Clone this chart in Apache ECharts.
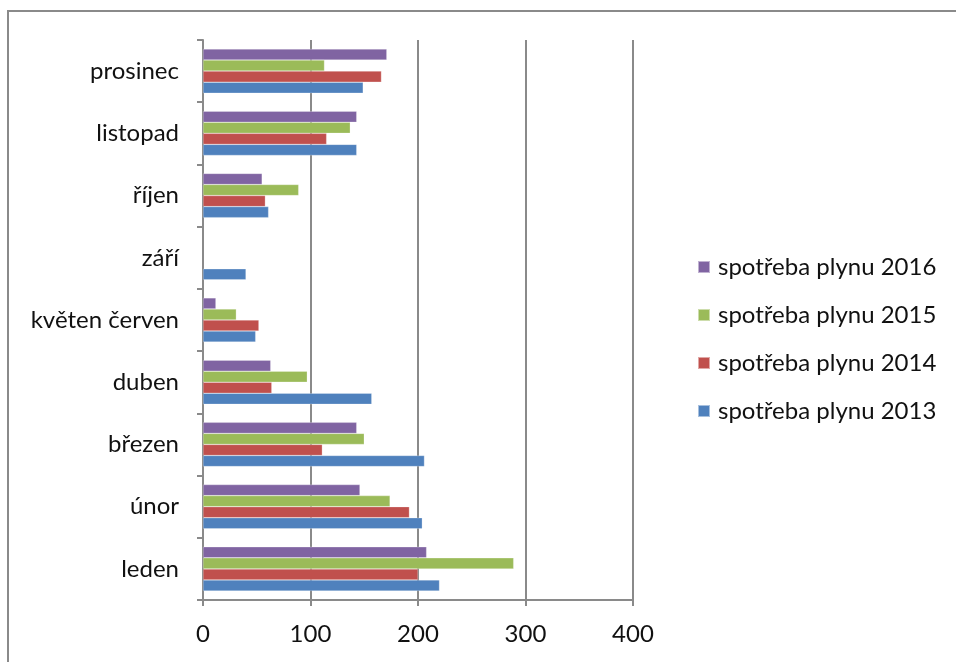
<!DOCTYPE html>
<html>
<head>
<meta charset="utf-8">
<script src="https://cdn.jsdelivr.net/npm/echarts@6/dist/echarts.min.js"></script>
<style>
html,body{margin:0;padding:0;background:#fff;}
#c{width:956px;height:662px;}
</style>
</head>
<body>
<div id="c"></div>
<script>
const categories = ['leden', 'únor', 'březen', 'duben', 'květen červen', 'září', 'říjen', 'listopad', 'prosinec'];
const seriesNames = ['spotřeba plynu 2013', 'spotřeba plynu 2014', 'spotřeba plynu 2015', 'spotřeba plynu 2016'];
const values2013 = [220, 204, 206, 157, 49, 40, 61, 143, 149];
const values2014 = [200, 192, 111, 64, 52, null, 58, 115, 166];
const values2015 = [289, 174, 150, 97, 31, null, 89, 137, 113];
const values2016 = [208, 146, 143, 63, 12, null, 55, 143, 171];
const xTicks = [0, 100, 200, 300, 400];

const colors = ['#4F81BD', '#C0504D', '#9BBB59', '#8064A2'];
const allValues = [values2013, values2014, values2015, values2016];
const font = 'Lato, "Open Sans", sans-serif';

// ECharts places the first series of a horizontal group at the top,
// so series are supplied from 2016 down to 2013.
const order = [3, 2, 1, 0];

const chart = echarts.init(document.getElementById('c'));
chart.setOption({
  animation: false,
  backgroundColor: '#fff',
  graphic: [{
    type: 'rect',
    shape: { x: 8, y: 11, width: 1000, height: 800 },
    style: { fill: 'none', stroke: '#8a8a8a', lineWidth: 2 },
    z: -10
  }],
  grid: { left: 203, right: 323, top: 40, bottom: 62 },
  legend: {
    orient: 'vertical',
    left: 692,
    top: 250,
    data: order.map(i => seriesNames[i]),
    icon: 'rect',
    itemWidth: 12,
    itemHeight: 12,
    itemGap: 24,
    textStyle: { fontFamily: font, fontSize: 24, color: '#111', lineHeight: 24, padding: [0, 0, 0, 3] }
  },
  xAxis: {
    type: 'value',
    min: xTicks[0],
    max: xTicks[xTicks.length - 1],
    interval: 100,
    axisLine: { show: true, lineStyle: { color: '#8a8a8a', width: 2 } },
    axisTick: { show: true, length: 6, lineStyle: { color: '#8a8a8a', width: 2 } },
    splitLine: { show: true, lineStyle: { color: '#8a8a8a', width: 2 } },
    axisLabel: { fontFamily: font, fontSize: 24, color: '#111', margin: 22 }
  },
  yAxis: {
    type: 'category',
    data: categories,
    axisLine: { show: true, lineStyle: { color: '#8a8a8a', width: 2 } },
    axisTick: { show: true, length: 6, lineStyle: { color: '#8a8a8a', width: 2 } },
    axisLabel: { fontFamily: font, fontSize: 24, color: '#111', margin: 24 }
  },
  series: order.map(i => ({
    name: seriesNames[i],
    type: 'bar',
    data: allValues[i],
    barGap: '0%',
    barCategoryGap: '29%',
    itemStyle: { color: colors[i], borderColor: 'rgba(255,255,255,0.5)', borderWidth: 0.5 }
  }))
});
</script>
</body>
</html>
